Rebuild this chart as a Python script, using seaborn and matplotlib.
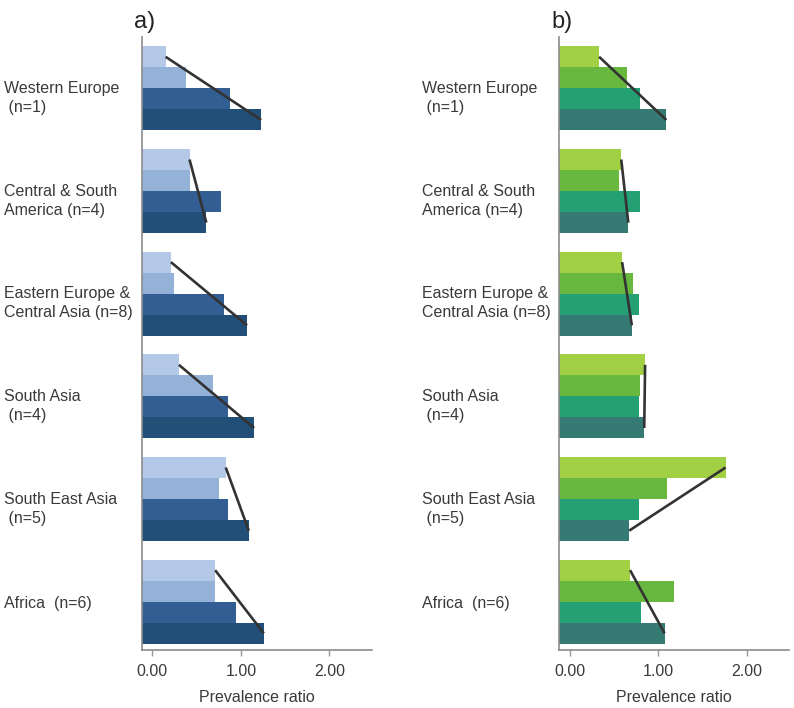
import pandas as pd
import matplotlib.pyplot as plt
import matplotlib.transforms as mtransforms
import seaborn as sns

# regions (y categories) and the four bars per region, top to bottom
regions = ['Western Europe\n (n=1)', 'Central & South\nAmerica (n=4)',
           'Eastern Europe &\nCentral Asia (n=8)', 'South Asia\n (n=4)',
           'South East Asia\n (n=5)', 'Africa  (n=6)']
levels = ['Q1', 'Q2', 'Q3', 'Q4']

# panel a) values
a_q1 = [0.15, 0.42, 0.21, 0.30, 0.83, 0.71]
a_q2 = [0.38, 0.42, 0.25, 0.68, 0.75, 0.71]
a_q3 = [0.88, 0.78, 0.81, 0.86, 0.86, 0.95]
a_q4 = [1.23, 0.61, 1.07, 1.15, 1.09, 1.26]

# panel b) values
b_q1 = [0.33, 0.58, 0.59, 0.85, 1.76, 0.68]
b_q2 = [0.64, 0.55, 0.71, 0.79, 1.10, 1.18]
b_q3 = [0.79, 0.79, 0.78, 0.78, 0.78, 0.80]
b_q4 = [1.09, 0.66, 0.70, 0.84, 0.67, 1.07]

blues = ['#b4c8e8', '#94b2d8', '#325e93', '#214f78']
greens = ['#a2d044', '#68b73e', '#25a074', '#357b73']

tick_labels = ['0.00', '1.00', '2.00']
x_min, x_max = -0.12, 2.48


def make_df(cols):
    rows = []
    for lev, vals in zip(levels, cols):
        for reg, v in zip(regions, vals):
            rows.append({'region': reg, 'level': lev, 'ratio': v})
    return pd.DataFrame(rows)


sns.set_style('white')
plt.rcParams['font.family'] = ['Liberation Sans', 'DejaVu Sans']
text_col = '#3a3a3a'

fig = plt.figure(figsize=(7.94, 7.08), dpi=100)
ax_a = fig.add_axes([0.1785, 0.0819, 0.2897, 0.8658])
ax_b = fig.add_axes([0.7044, 0.0819, 0.2897, 0.8658])

panels = [(ax_a, make_df([a_q1, a_q2, a_q3, a_q4]), blues, 'a)'),
          (ax_b, make_df([b_q1, b_q2, b_q3, b_q4]), greens, 'b)')]

for ax, df, pal, title in panels:
    sns.barplot(data=df, y='region', x='ratio', hue='level', orient='h',
                palette=pal, width=0.82, linewidth=0, saturation=1,
                legend=False, ax=ax)
    # bars in the original start at the axis edge, not at zero
    for cont in ax.containers:
        for p in cont.patches:
            end = p.get_x() + p.get_width()
            p.set_x(x_min)
            p.set_width(end - x_min)
    # trend line from first to last bar of each group
    first, last = ax.containers[0], ax.containers[-1]
    for p0, p1 in zip(first.patches, last.patches):
        ax.plot([p0.get_x() + p0.get_width(), p1.get_x() + p1.get_width()],
                [p0.get_y() + p0.get_height() / 2, p1.get_y() + p1.get_height() / 2],
                color='#333333', lw=1.9, solid_capstyle='butt')

    ax.set_xlim(x_min, x_max)
    ax.set_ylim(5.47, -0.5)
    ax.set_xticks([0, 1, 2])
    ax.set_xticklabels(tick_labels, fontsize=11.5, color=text_col)
    ax.set_xlabel('Prevalence ratio', fontsize=11.5, color=text_col, labelpad=8)
    ax.set_ylabel('')
    ax.tick_params(axis='x', bottom=True, direction='out', length=4, width=1,
                   color='#999999', pad=6)
    ax.tick_params(axis='y', left=False, length=0, pad=99)
    for lab in ax.get_yticklabels():
        lab.set_horizontalalignment('left')
        lab.set_fontsize(11.5)
        lab.set_color(text_col)
        lab.set_linespacing(1.35)
        if '\n' in lab.get_text():
            shift = mtransforms.ScaledTranslation(0, -6 / 100, fig.dpi_scale_trans)
            lab.set_transform(lab.get_transform() + shift)
    sns.despine(ax=ax)
    for s in ['left', 'bottom']:
        ax.spines[s].set_color('#8c8c8c')
        ax.spines[s].set_linewidth(1.2)
    ax.text(-0.033, 1.015, title, transform=ax.transAxes, fontsize=17,
            color='#222222', ha='left', va='baseline')

fig.savefig('out.png', dpi=100)
